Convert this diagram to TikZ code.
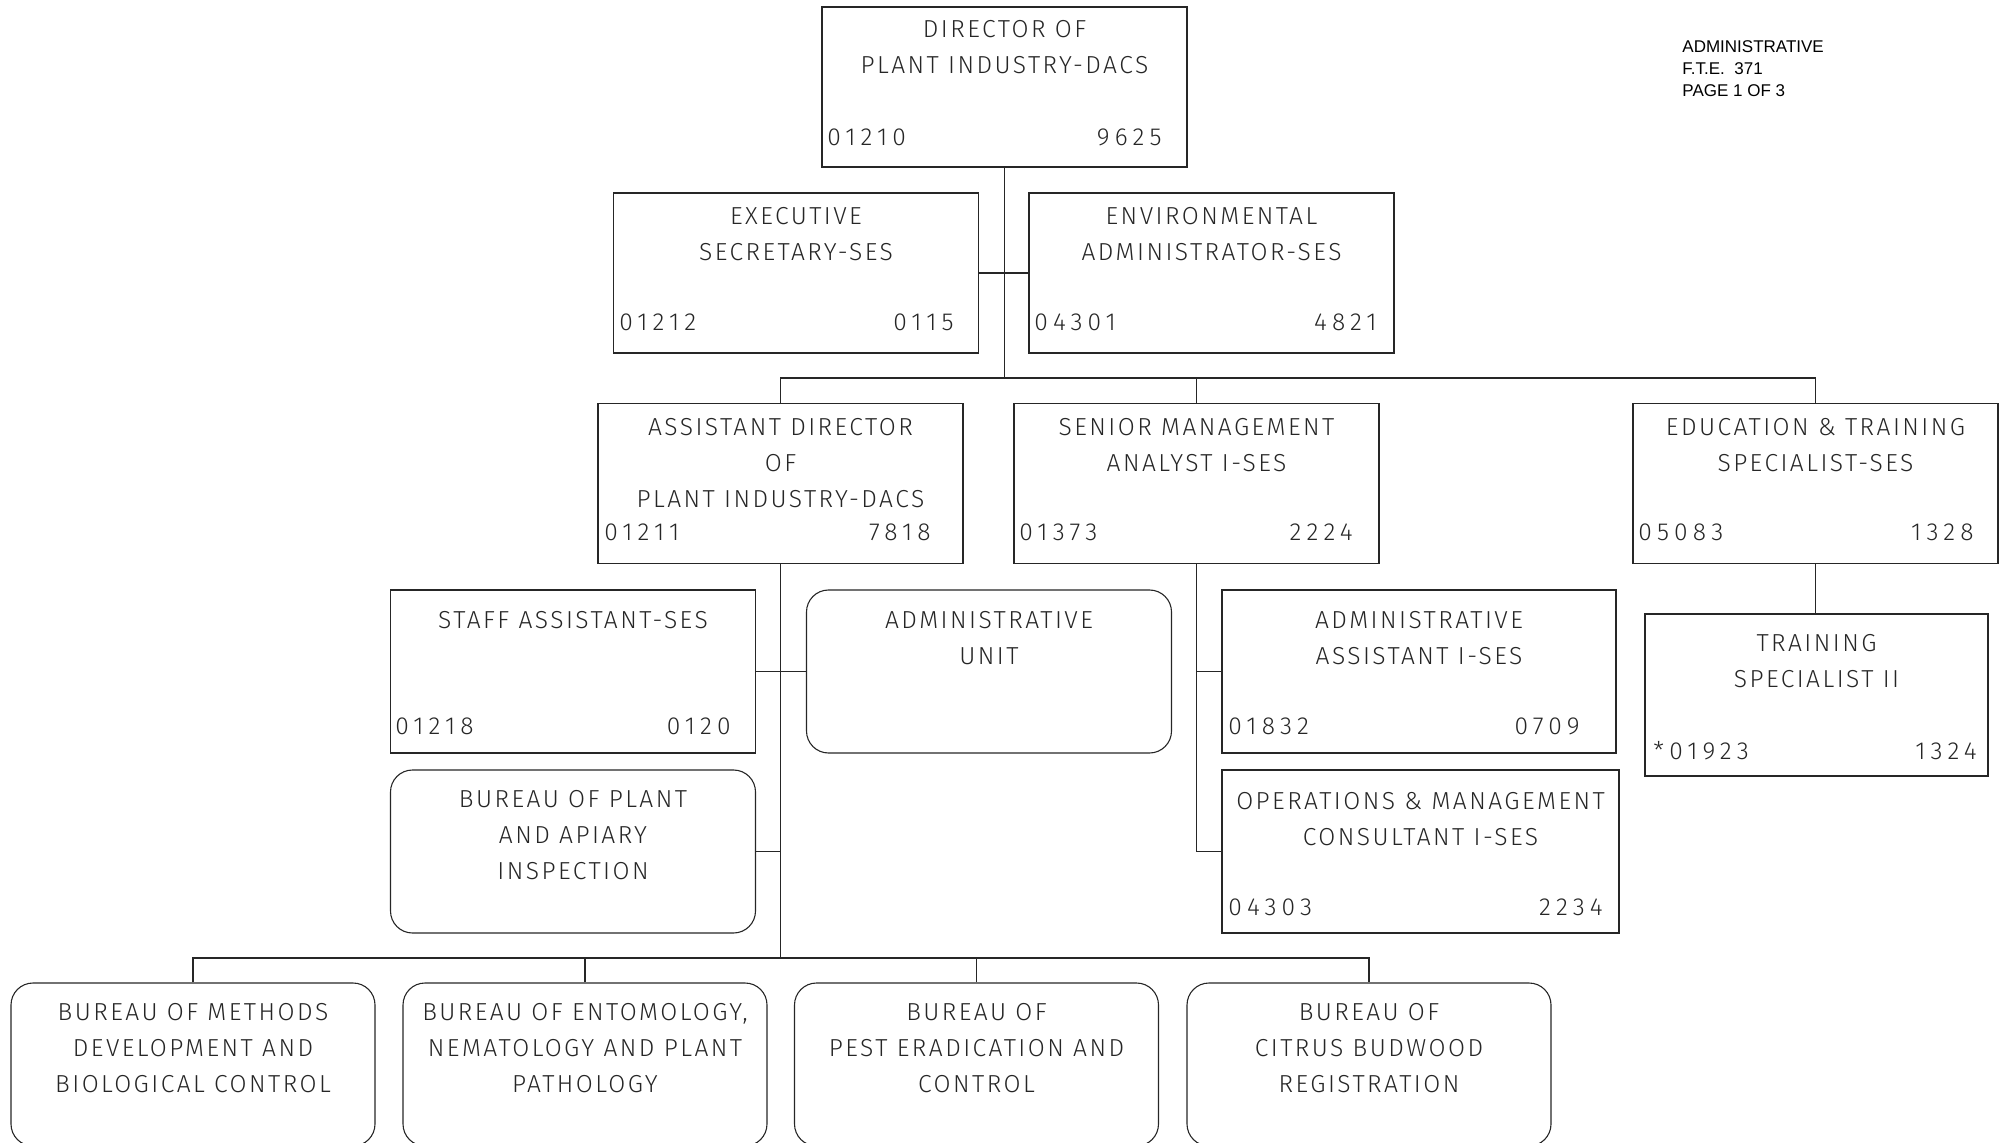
\documentclass[tikz,border=0pt]{standalone}
\usepackage{fontspec}
\setmainfont{Fira Sans}[UprightFont={* Light}, LetterSpace=10]
\newfontfamily\numfont{Fira Sans}[UprightFont={* Light}, LetterSpace=21]
\newfontfamily\notefont{Liberation Sans}
\begin{document}
\begin{tikzpicture}[x=0.5pt,y=-0.5pt,
  link/.style={line width=0.55pt, draw=black!85},
  post/.style={draw=black!85, line width=0.55pt, minimum width=182.5pt, minimum height=80pt, inner sep=0pt},
  bureau/.style={post, rounded corners=11pt},
  ttl/.style={anchor=north, inner sep=0pt, align=center, text=black!85, font=\fontsize{12.3}{18}\selectfont},
  num/.style={inner sep=0pt, text=black!85, font=\numfont\fontsize{12.3}{18}\selectfont},
  note/.style={anchor=west, inner sep=0pt, align=left, font=\notefont\fontsize{8.5}{11.4}\selectfont}]
\useasboundingbox (0,0) rectangle (2005,1143);
\clip (0,0) rectangle (2005,1143);

% ---- top level ----
\node[post] (dir) at (1004.5,87) {};
\node[ttl] (dirT) at (1004.5,19.5) {DIRECTOR OF\\PLANT INDUSTRY-DACS};
\node[num,anchor=west] (dirL) at (827,137) {01210};
\node[num,anchor=east] (dirR) at (1162,137) {9625};

\node[post] (exec) at (796,273) {};
\node[ttl] (execT) at (796,206.5) {EXECUTIVE\\SECRETARY-SES};
\node[num,anchor=west] (execL) at (619,322) {01212};
\node[num,anchor=east] (execR) at (954,322) {0115};

\node[post] (env) at (1211.5,273) {};
\node[ttl] (envT) at (1211.5,206.5) {ENVIRONMENTAL\\ADMINISTRATOR-SES};
\node[num,anchor=west] (envL) at (1034,322) {04301};
\node[num,anchor=east] (envR) at (1377,322) {4821};

% ---- second level ----
\node[post] (asst) at (780.5,483.5) {};
\node[ttl] (asstT) at (780.5,417.5) {ASSISTANT DIRECTOR\\OF\\PLANT INDUSTRY-DACS};
\node[num,anchor=west] (asstL) at (604,532) {01211};
\node[num,anchor=east] (asstR) at (931,532) {7818};

\node[post] (senior) at (1196.5,483.5) {};
\node[ttl] (seniorT) at (1196.5,417.5) {SENIOR MANAGEMENT\\ANALYST I-SES};
\node[num,anchor=west] (seniorL) at (1019,532) {01373};
\node[num,anchor=east] (seniorR) at (1353,532) {2224};

\node[post] (edu) at (1815.5,483.5) {};
\node[ttl] (eduT) at (1815.5,417.5) {EDUCATION \& TRAINING\\SPECIALIST-SES};
\node[num,anchor=west] (eduL) at (1638,532) {05083};
\node[num,anchor=east] (eduR) at (1974,532) {1328};

% ---- under the assistant director ----
\node[post, minimum height=81.5pt] (staff) at (573,671.5) {};
\node[ttl] (staffT) at (573,610.5) {STAFF ASSISTANT-SES};
\node[num,anchor=west] (staffL) at (395,726) {01218};
\node[num,anchor=east] (staffR) at (731,726) {0120};

\node[bureau, minimum height=81.5pt] (admu) at (989,671.5) {};
\node[ttl] (admuT) at (989,610.5) {ADMINISTRATIVE\\UNIT};

\node[bureau, minimum height=81.5pt] (pai) at (573,851.5) {};
\node[ttl] (paiT) at (573,789.5) {BUREAU OF PLANT\\AND APIARY\\INSPECTION};

% ---- under the senior management analyst ----
\node[post, minimum width=197pt, minimum height=81.5pt] (aa) at (1419,671.5) {};
\node[ttl] (aaT) at (1419,610.5) {ADMINISTRATIVE\\ASSISTANT I-SES};
\node[num,anchor=west] (aaL) at (1228,726) {01832};
\node[num,anchor=east] (aaR) at (1580,726) {0709};

\node[post, minimum width=198.5pt, minimum height=81.5pt] (ops) at (1420.5,851.5) {};
\node[ttl] (opsT) at (1420.5,791.5) {OPERATIONS \& MANAGEMENT\\CONSULTANT I-SES};
\node[num,anchor=west] (opsL) at (1228,907) {04303};
\node[num,anchor=east] (opsR) at (1603,907) {2234};

% ---- under the education & training specialist ----
\node[post, minimum width=171.5pt, minimum height=81pt] (train) at (1816.5,695) {};
\node[ttl] (trainT) at (1816.5,633.5) {TRAINING\\SPECIALIST II};
\node[num,anchor=west] (trainL) at (1653,751) {*01923};
\node[num,anchor=east] (trainR) at (1977,751) {1324};

% ---- bureaus ----
\node[bureau, minimum width=182pt, minimum height=81.5pt] (bm) at (193,1064.5) {};
\node[ttl] (bmT) at (193,1002.5) {BUREAU OF METHODS\\DEVELOPMENT AND\\BIOLOGICAL CONTROL};
\node[bureau, minimum width=182pt, minimum height=81.5pt] (be) at (585,1064.5) {};
\node[ttl] (beT) at (585,1002.5) {BUREAU OF ENTOMOLOGY,\\NEMATOLOGY AND PLANT\\PATHOLOGY};
\node[bureau, minimum width=182pt, minimum height=81.5pt] (bp) at (976.5,1064.5) {};
\node[ttl] (bpT) at (976.5,1002.5) {BUREAU OF\\PEST ERADICATION AND\\CONTROL};
\node[bureau, minimum width=182pt, minimum height=81.5pt] (bc) at (1369,1064.5) {};
\node[ttl] (bcT) at (1369,1002.5) {BUREAU OF\\CITRUS BUDWOOD\\REGISTRATION};

% ---- corner note ----
\node[note] (noteA) at (1682,47) {ADMINISTRATIVE};
\node[note] (noteB) at (1682,69) {F.T.E.\ \ 371};
\node[note] (noteC) at (1682,91) {PAGE 1 OF 3};

% ---- connectors ----
\coordinate (j1) at (1004.5,378);
\coordinate (j2) at (780.5,958);
\draw[link] (dir.south) -- (j1);
\draw[link] (exec.east) -- (env.west);
\draw[link] (asst.north) |- (j1) -| (edu.north);
\draw[link] (j1 -| senior.north) -- (senior.north);

\draw[link] (asst.south) -- (j2);
\draw[link] (staff.east) -- (admu.west);
\draw[link] (pai.east) -- (pai.east -| asst.south);
\draw[link] (bm.north) |- (j2) -| (bc.north);
\draw[link] (be.north) -- (be.north |- j2);
\draw[link] (bp.north) -- (bp.north |- j2);

\draw[link] (senior.south) |- (ops.west);
\draw[link] (aa.west) -- (aa.west -| senior.south);

\draw[link] (edu.south) -- (edu.south |- train.north);
\end{tikzpicture}
\end{document}
